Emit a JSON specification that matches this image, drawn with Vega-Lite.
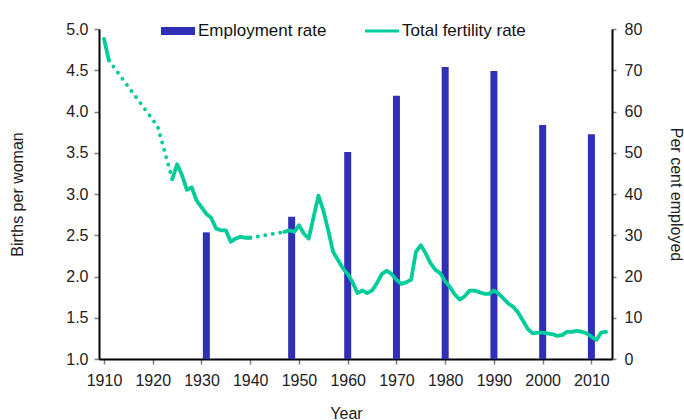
{
  "$schema": "https://vega.github.io/schema/vega-lite/v6.json",
  "width": 513,
  "height": 330,
  "autosize": {"type": "none"},
  "padding": {"left": 99, "top": 29, "right": 72, "bottom": 61},
  "background": "white",
  "config": {
    "view": {"stroke": null},
    "font": "Liberation Sans",
    "axis": {
      "grid": false,
      "labelFont": "Liberation Sans",
      "labelFontSize": 16,
      "labelColor": "#222222",
      "titleFont": "Liberation Sans",
      "titleFontSize": 16,
      "titleFontWeight": "normal",
      "titleColor": "#222222",
      "domainColor": "#000000",
      "domainWidth": 2,
      "tickColor": "#808080",
      "tickSize": 5,
      "tickWidth": 1.5
    }
  },
  "datasets": {
    "emp": [
      {"year": 1931, "pct": 30.7, "series": "Employment rate"},
      {"year": 1948.5, "pct": 34.5, "series": "Employment rate"},
      {"year": 1960, "pct": 50.2, "series": "Employment rate"},
      {"year": 1970, "pct": 63.8, "series": "Employment rate"},
      {"year": 1980, "pct": 70.8, "series": "Employment rate"},
      {"year": 1990, "pct": 69.8, "series": "Employment rate"},
      {"year": 2000, "pct": 56.7, "series": "Employment rate"},
      {"year": 2010, "pct": 54.5, "series": "Employment rate"}
    ],
    "tfr": [
      {"year": 1910, "tfr": 4.88, "seg": "a", "style": "solid", "series": "Total fertility rate"},
      {"year": 1911, "tfr": 4.62, "seg": "a", "style": "solid", "series": "Total fertility rate"},
      {"year": 1911, "tfr": 4.62, "seg": "b", "style": "dotted", "series": "Total fertility rate"},
      {"year": 1921, "tfr": 3.82, "seg": "b", "style": "dotted", "series": "Total fertility rate"},
      {"year": 1924, "tfr": 3.18, "seg": "b", "style": "dotted", "series": "Total fertility rate"},
      {"year": 1924, "tfr": 3.18, "seg": "c", "style": "solid", "series": "Total fertility rate"},
      {"year": 1925, "tfr": 3.36, "seg": "c", "style": "solid", "series": "Total fertility rate"},
      {"year": 1926, "tfr": 3.23, "seg": "c", "style": "solid", "series": "Total fertility rate"},
      {"year": 1927, "tfr": 3.05, "seg": "c", "style": "solid", "series": "Total fertility rate"},
      {"year": 1928, "tfr": 3.08, "seg": "c", "style": "solid", "series": "Total fertility rate"},
      {"year": 1929, "tfr": 2.92, "seg": "c", "style": "solid", "series": "Total fertility rate"},
      {"year": 1930, "tfr": 2.84, "seg": "c", "style": "solid", "series": "Total fertility rate"},
      {"year": 1931, "tfr": 2.76, "seg": "c", "style": "solid", "series": "Total fertility rate"},
      {"year": 1932, "tfr": 2.71, "seg": "c", "style": "solid", "series": "Total fertility rate"},
      {"year": 1933, "tfr": 2.58, "seg": "c", "style": "solid", "series": "Total fertility rate"},
      {"year": 1934, "tfr": 2.56, "seg": "c", "style": "solid", "series": "Total fertility rate"},
      {"year": 1935, "tfr": 2.56, "seg": "c", "style": "solid", "series": "Total fertility rate"},
      {"year": 1936, "tfr": 2.42, "seg": "c", "style": "solid", "series": "Total fertility rate"},
      {"year": 1937, "tfr": 2.46, "seg": "c", "style": "solid", "series": "Total fertility rate"},
      {"year": 1938, "tfr": 2.48, "seg": "c", "style": "solid", "series": "Total fertility rate"},
      {"year": 1939, "tfr": 2.47, "seg": "c", "style": "solid", "series": "Total fertility rate"},
      {"year": 1940, "tfr": 2.47, "seg": "c", "style": "solid", "series": "Total fertility rate"},
      {"year": 1940, "tfr": 2.47, "seg": "d", "style": "dotted", "series": "Total fertility rate"},
      {"year": 1947, "tfr": 2.54, "seg": "d", "style": "dotted", "series": "Total fertility rate"},
      {"year": 1947, "tfr": 2.54, "seg": "e", "style": "solid", "series": "Total fertility rate"},
      {"year": 1948, "tfr": 2.56, "seg": "e", "style": "solid", "series": "Total fertility rate"},
      {"year": 1949, "tfr": 2.54, "seg": "e", "style": "solid", "series": "Total fertility rate"},
      {"year": 1950, "tfr": 2.62, "seg": "e", "style": "solid", "series": "Total fertility rate"},
      {"year": 1951, "tfr": 2.52, "seg": "e", "style": "solid", "series": "Total fertility rate"},
      {"year": 1952, "tfr": 2.46, "seg": "e", "style": "solid", "series": "Total fertility rate"},
      {"year": 1954, "tfr": 2.98, "seg": "e", "style": "solid", "series": "Total fertility rate"},
      {"year": 1955, "tfr": 2.80, "seg": "e", "style": "solid", "series": "Total fertility rate"},
      {"year": 1956, "tfr": 2.56, "seg": "e", "style": "solid", "series": "Total fertility rate"},
      {"year": 1957, "tfr": 2.30, "seg": "e", "style": "solid", "series": "Total fertility rate"},
      {"year": 1958, "tfr": 2.20, "seg": "e", "style": "solid", "series": "Total fertility rate"},
      {"year": 1959, "tfr": 2.10, "seg": "e", "style": "solid", "series": "Total fertility rate"},
      {"year": 1960, "tfr": 2.03, "seg": "e", "style": "solid", "series": "Total fertility rate"},
      {"year": 1961, "tfr": 1.93, "seg": "e", "style": "solid", "series": "Total fertility rate"},
      {"year": 1962, "tfr": 1.80, "seg": "e", "style": "solid", "series": "Total fertility rate"},
      {"year": 1963, "tfr": 1.83, "seg": "e", "style": "solid", "series": "Total fertility rate"},
      {"year": 1964, "tfr": 1.80, "seg": "e", "style": "solid", "series": "Total fertility rate"},
      {"year": 1965, "tfr": 1.83, "seg": "e", "style": "solid", "series": "Total fertility rate"},
      {"year": 1966, "tfr": 1.92, "seg": "e", "style": "solid", "series": "Total fertility rate"},
      {"year": 1967, "tfr": 2.03, "seg": "e", "style": "solid", "series": "Total fertility rate"},
      {"year": 1968, "tfr": 2.07, "seg": "e", "style": "solid", "series": "Total fertility rate"},
      {"year": 1969, "tfr": 2.03, "seg": "e", "style": "solid", "series": "Total fertility rate"},
      {"year": 1970, "tfr": 1.96, "seg": "e", "style": "solid", "series": "Total fertility rate"},
      {"year": 1971, "tfr": 1.91, "seg": "e", "style": "solid", "series": "Total fertility rate"},
      {"year": 1972, "tfr": 1.93, "seg": "e", "style": "solid", "series": "Total fertility rate"},
      {"year": 1973, "tfr": 1.96, "seg": "e", "style": "solid", "series": "Total fertility rate"},
      {"year": 1974, "tfr": 2.30, "seg": "e", "style": "solid", "series": "Total fertility rate"},
      {"year": 1975, "tfr": 2.38, "seg": "e", "style": "solid", "series": "Total fertility rate"},
      {"year": 1976, "tfr": 2.28, "seg": "e", "style": "solid", "series": "Total fertility rate"},
      {"year": 1977, "tfr": 2.16, "seg": "e", "style": "solid", "series": "Total fertility rate"},
      {"year": 1978, "tfr": 2.08, "seg": "e", "style": "solid", "series": "Total fertility rate"},
      {"year": 1979, "tfr": 2.04, "seg": "e", "style": "solid", "series": "Total fertility rate"},
      {"year": 1980, "tfr": 1.94, "seg": "e", "style": "solid", "series": "Total fertility rate"},
      {"year": 1981, "tfr": 1.87, "seg": "e", "style": "solid", "series": "Total fertility rate"},
      {"year": 1982, "tfr": 1.78, "seg": "e", "style": "solid", "series": "Total fertility rate"},
      {"year": 1983, "tfr": 1.72, "seg": "e", "style": "solid", "series": "Total fertility rate"},
      {"year": 1984, "tfr": 1.76, "seg": "e", "style": "solid", "series": "Total fertility rate"},
      {"year": 1985, "tfr": 1.83, "seg": "e", "style": "solid", "series": "Total fertility rate"},
      {"year": 1986, "tfr": 1.83, "seg": "e", "style": "solid", "series": "Total fertility rate"},
      {"year": 1987, "tfr": 1.81, "seg": "e", "style": "solid", "series": "Total fertility rate"},
      {"year": 1988, "tfr": 1.79, "seg": "e", "style": "solid", "series": "Total fertility rate"},
      {"year": 1989, "tfr": 1.79, "seg": "e", "style": "solid", "series": "Total fertility rate"},
      {"year": 1990, "tfr": 1.83, "seg": "e", "style": "solid", "series": "Total fertility rate"},
      {"year": 1991, "tfr": 1.79, "seg": "e", "style": "solid", "series": "Total fertility rate"},
      {"year": 1992, "tfr": 1.73, "seg": "e", "style": "solid", "series": "Total fertility rate"},
      {"year": 1993, "tfr": 1.67, "seg": "e", "style": "solid", "series": "Total fertility rate"},
      {"year": 1994, "tfr": 1.63, "seg": "e", "style": "solid", "series": "Total fertility rate"},
      {"year": 1995, "tfr": 1.56, "seg": "e", "style": "solid", "series": "Total fertility rate"},
      {"year": 1996, "tfr": 1.46, "seg": "e", "style": "solid", "series": "Total fertility rate"},
      {"year": 1997, "tfr": 1.36, "seg": "e", "style": "solid", "series": "Total fertility rate"},
      {"year": 1998, "tfr": 1.31, "seg": "e", "style": "solid", "series": "Total fertility rate"},
      {"year": 1999, "tfr": 1.32, "seg": "e", "style": "solid", "series": "Total fertility rate"},
      {"year": 2000, "tfr": 1.32, "seg": "e", "style": "solid", "series": "Total fertility rate"},
      {"year": 2001, "tfr": 1.31, "seg": "e", "style": "solid", "series": "Total fertility rate"},
      {"year": 2002, "tfr": 1.30, "seg": "e", "style": "solid", "series": "Total fertility rate"},
      {"year": 2003, "tfr": 1.28, "seg": "e", "style": "solid", "series": "Total fertility rate"},
      {"year": 2004, "tfr": 1.29, "seg": "e", "style": "solid", "series": "Total fertility rate"},
      {"year": 2005, "tfr": 1.33, "seg": "e", "style": "solid", "series": "Total fertility rate"},
      {"year": 2006, "tfr": 1.33, "seg": "e", "style": "solid", "series": "Total fertility rate"},
      {"year": 2007, "tfr": 1.34, "seg": "e", "style": "solid", "series": "Total fertility rate"},
      {"year": 2008, "tfr": 1.33, "seg": "e", "style": "solid", "series": "Total fertility rate"},
      {"year": 2009, "tfr": 1.31, "seg": "e", "style": "solid", "series": "Total fertility rate"},
      {"year": 2010, "tfr": 1.27, "seg": "e", "style": "solid", "series": "Total fertility rate"},
      {"year": 2011, "tfr": 1.23, "seg": "e", "style": "solid", "series": "Total fertility rate"},
      {"year": 2012, "tfr": 1.32, "seg": "e", "style": "solid", "series": "Total fertility rate"},
      {"year": 2013, "tfr": 1.33, "seg": "e", "style": "solid", "series": "Total fertility rate"}
    ]
  },
  "layer": [
    {
      "data": {"name": "emp"},
      "mark": {"type": "bar", "size": 7},
      "encoding": {
        "x": {
          "field": "year",
          "type": "quantitative",
          "scale": {"domain": [1910, 2013.2], "nice": false, "zero": false},
          "axis": {
            "values": [1910, 1920, 1930, 1940, 1950, 1960, 1970, 1980, 1990, 2000, 2010],
            "format": "d",
            "title": "Year",
            "labelPadding": 8,
            "titlePadding": 17,
            "titleX": 247
          }
        },
        "y": {
          "field": "pct",
          "type": "quantitative",
          "scale": {"domain": [0, 80], "nice": false},
          "axis": {
            "orient": "right",
            "values": [0, 10, 20, 30, 40, 50, 60, 70, 80],
            "title": "Per cent employed",
            "titleAngle": 90,
            "labelPadding": 8,
            "tickSize": 4,
            "titlePadding": 26
          }
        },
        "color": {
          "field": "series",
          "type": "nominal",
          "scale": {"domain": ["Employment rate", "Total fertility rate"], "range": ["#2f2fb8", "#00cc99"]},
          "legend": {
            "orient": "none",
            "legendX": 62,
            "legendY": -15,
            "direction": "horizontal",
            "title": null,
            "labelFont": "Liberation Sans",
            "labelFontSize": 17,
            "labelColor": "#111111",
            "symbolSize": 1156,
            "labelOffset": 3,
            "columnPadding": 38,
            "symbolStrokeWidth": 0,
            "encode": {
              "symbols": {
                "update": {
                  "shape": {"signal": "datum.value === 'Employment rate' ? 'M-1,-0.235H1V0.235H-1Z' : 'M-1,-0.09H1V0.09H-1Z'"},
                  "fill": {"signal": "datum.value === 'Employment rate' ? '#2f2fb8' : '#00cc99'"},
                  "stroke": {"value": "transparent"},
                  "opacity": {"value": 1}
                }
              }
            }
          }
        }
      }
    },
    {
      "data": {"name": "tfr"},
      "mark": {"type": "line", "strokeWidth": 3.8, "strokeCap": "round", "strokeJoin": "round"},
      "encoding": {
        "x": {"field": "year", "type": "quantitative"},
        "y": {
          "field": "tfr",
          "type": "quantitative",
          "scale": {"domain": [1, 5], "nice": false, "zero": false},
          "axis": {
            "orient": "left",
            "values": [1, 1.5, 2, 2.5, 3, 3.5, 4, 4.5, 5],
            "format": ".1f",
            "title": "Births per woman",
            "labelPadding": 6,
            "titlePadding": 40
          }
        },
        "color": {"field": "series", "type": "nominal"},
        "strokeDash": {
          "field": "style",
          "type": "nominal",
          "scale": {"domain": ["solid", "dotted"], "range": [[1, 0], [0.1, 7.5]]},
          "legend": null
        },
        "detail": {"field": "seg"}
      }
    }
  ]
,
  "resolve": {"scale": {"y": "independent"}}
}
